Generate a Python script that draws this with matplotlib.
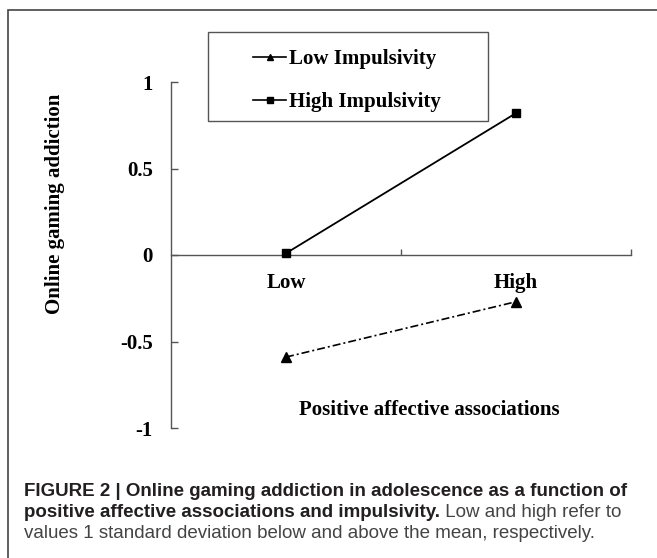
import matplotlib
matplotlib.use('Agg')
import matplotlib.pyplot as plt
from matplotlib.lines import Line2D
from matplotlib.patches import Rectangle

# ---------------- data ----------------
categories = ['Low', 'High']
series_names = ['Low Impulsivity', 'High Impulsivity']
low_impulsivity = [-0.59, -0.27]
high_impulsivity = [0.01, 0.82]
y_ticks = [-1, -0.5, 0, 0.5, 1]
y_tick_labels = ['-1', '-0.5', '0', '0.5', '1']
x_label = 'Positive affective associations'
y_label = 'Online gaming addiction'
caption_line1 = 'FIGURE 2 | Online gaming addiction in adolescence as a function of'
caption_line2_bold = 'positive affective associations and impulsivity.'
caption_line2_reg = ' Low and high refer to'
caption_line3 = 'values 1 standard deviation below and above the mean, respectively.'

# ---------------- layout helpers ----------------
W, H = 657, 558
fig = plt.figure(figsize=(W / 100, H / 100), dpi=100)
fig.patch.set_facecolor('white')


def fx(px):
    return px / W


def fy(py):
    return 1 - py / H


serif = 'Liberation Serif'
sfont = dict(family=serif, weight='bold', size=15)

# outer border (extends past right/bottom edges)
fig.patches.append(Rectangle((fx(7.5), fy(700)), (800 - 7.5) / W, (700 - 10) / H,
                             transform=fig.transFigure, fill=False,
                             ec='#444444', lw=1.2))

ax = fig.add_axes([fx(171), fy(428), (631 - 171) / W, (428 - 82) / H])
ax.set_facecolor('none')

xs = [i + 1 for i in range(len(categories))]
ax.plot(xs, low_impulsivity, color='black', lw=1.2,
        ls=(0, (4.8, 1.8, 1.2, 1.8)), marker='^', ms=6.5, zorder=3)
ax.plot(xs, high_impulsivity, color='black', lw=1.3, ls='-',
        marker='s', ms=6, zorder=3)

ax.set_xlim(0.5, 2.5)
ax.set_ylim(-1, 1)

for s in ['top', 'right']:
    ax.spines[s].set_visible(False)
ax.spines['bottom'].set_position(('data', 0))
for s in ['left', 'bottom']:
    ax.spines[s].set_color('#555555')
    ax.spines[s].set_linewidth(1.0)

ax.set_yticks(y_ticks)
ax.set_yticklabels(y_tick_labels, **sfont)
ax.tick_params(axis='y', direction='in', length=5, width=1, color='#555555', pad=13)

ax.set_xticks([1.5, 2.5])
ax.set_xticklabels([])
ax.tick_params(axis='x', which='major', direction='in', length=4, width=1, color='#555555')
ax.set_xticks(xs, minor=True)
ax.set_xticklabels(categories, minor=True, **sfont)
ax.tick_params(axis='x', which='minor', length=0, pad=13)

ax.set_ylabel(y_label, fontdict=sfont, va='center')
ax.yaxis.set_label_coords((55 - 171) / 460, (428 - 204) / 346)
ax.set_xlabel(x_label, fontdict=sfont, va='center')
ax.xaxis.set_label_coords((429 - 171) / 460, (428 - 410) / 346)

# legend box
fig.patches.append(Rectangle((fx(208), fy(121)), 280 / W, 89 / H,
                             transform=fig.transFigure, fill=False,
                             ec='#555555', lw=1.0))
handles = [Line2D([], [], color='black', lw=1.2, marker='^', ms=5),
           Line2D([], [], color='black', lw=1.2, marker='s', ms=5)]
ax.legend(handles, series_names, loc='upper left',
          bbox_to_anchor=(fx(253), fy(49)), bbox_transform=fig.transFigure,
          frameon=False, handlelength=1.6, handletextpad=0.15,
          labelspacing=1.1, borderpad=0, borderaxespad=0,
          prop=dict(family=serif, weight='bold', size=15))

# caption
fig.canvas.draw()
r = fig.canvas.get_renderer()
cfam = 'Liberation Sans'
t1 = fig.text(fx(24), fy(496), caption_line1, family=cfam, weight='bold',
              size=12, color='#231f20', va='baseline')
w1 = t1.get_window_extent(r).width
cs = 12 * 600 / w1
t1.set_fontsize(cs)
t2 = fig.text(fx(24), fy(517), caption_line2_bold, family=cfam, weight='bold',
              size=cs, color='#231f20', va='baseline')
w2 = t2.get_window_extent(r).width
fig.text(fx(24 + w2), fy(517), caption_line2_reg, family=cfam, weight='normal',
         size=cs, color='#444444', va='baseline')
fig.text(fx(24), fy(538), caption_line3, family=cfam, weight='normal',
         size=cs, color='#444444', va='baseline')

fig.savefig('out.png', dpi=100)
